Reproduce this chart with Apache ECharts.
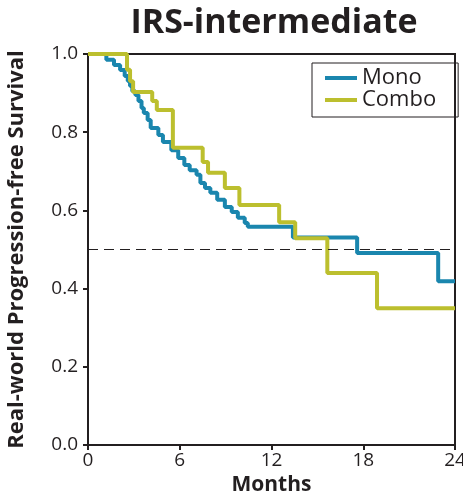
<!DOCTYPE html>
<html>
<head>
<meta charset="utf-8">
<script src="https://cdn.jsdelivr.net/npm/echarts@6/dist/echarts.min.js"></script>
<style>
html,body{margin:0;padding:0;background:#fff;}
#chart{width:463px;height:500px;}
</style>
</head>
<body>
<div id="chart"></div>
<script>
// Kaplan-Meier step data (months, survival)
var monoMonths = [0, 1.2, 1.7, 2.1, 2.4, 2.6, 2.75, 2.9, 3.1, 3.3, 3.5, 3.65, 3.9, 4.1, 4.6, 4.9, 5.45, 5.9, 6.3, 6.65, 7.1, 7.35, 7.65, 8.0, 8.45, 8.95, 9.4, 9.8, 10.25, 10.45, 13.4, 17.6, 22.9, 24];
var monoSurv   = [1.0, 0.985, 0.972, 0.959, 0.944, 0.931, 0.918, 0.905, 0.895, 0.880, 0.862, 0.849, 0.831, 0.811, 0.793, 0.775, 0.754, 0.734, 0.716, 0.703, 0.691, 0.670, 0.657, 0.645, 0.627, 0.609, 0.596, 0.581, 0.568, 0.558, 0.531, 0.491, 0.419, 0.419];
var comboMonths = [0, 2.55, 2.75, 2.95, 4.2, 4.5, 5.55, 7.5, 7.85, 8.95, 9.9, 12.5, 13.55, 15.65, 18.9, 24];
var comboSurv   = [1.0, 0.96, 0.93, 0.903, 0.880, 0.857, 0.760, 0.724, 0.696, 0.657, 0.614, 0.570, 0.529, 0.440, 0.350, 0.350];
var xTicks = [0, 6, 12, 18, 24];
var yTicks = [0.0, 0.2, 0.4, 0.6, 0.8, 1.0];
var refLine = 0.5;

function pairs(xs, ys){ return xs.map(function(x,i){ return [x, ys[i]]; }); }

var ink = '#231f20';
var font = 'Open Sans';
var chart = echarts.init(document.getElementById('chart'), null, {renderer:'canvas'});
chart.setOption({
  animation: false,
  backgroundColor: '#fff',
  title: {
    text: 'IRS-intermediate',
    left: 269, top: 1, textAlign: 'center',
    textStyle: {fontFamily: font, fontWeight: 'bold', fontSize: 34, color: ink}
  },
  legend: {
    orient: 'vertical',
    left: 312, top: 63,
    padding: [4, 22, 6, 13],
    itemGap: 0,
    itemWidth: 32, itemHeight: 4,
    borderColor: ink, borderWidth: 1,
    icon: 'rect',
    textStyle: {fontFamily: font, fontSize: 22, lineHeight: 21, color: ink, padding: [0,0,0,0]},
    data: ['Mono', 'Combo']
  },
  grid: {left: 88, right: 8, top: 54, bottom: 55, show: true, borderColor: ink, borderWidth: 2, backgroundColor: 'transparent', containLabel: false, outerBoundsMode: 'none'},
  xAxis: {
    type: 'value', min: xTicks[0], max: xTicks[xTicks.length-1], interval: 6,
    name: 'Months', nameLocation: 'middle', nameGap: 28,
    nameTextStyle: {fontFamily: font, fontWeight: 'bold', fontSize: 21, color: ink},
    axisLine: {show: true, lineStyle: {color: ink, width: 2}},
    axisTick: {show: true, length: 5, lineStyle: {color: ink, width: 2}},
    axisLabel: {fontFamily: font, fontSize: 19, color: ink, margin: 6},
    splitLine: {show: false}
  },
  yAxis: {
    type: 'value', min: yTicks[0], max: yTicks[yTicks.length-1], interval: 0.2,
    name: 'Real-world Progression-free Survival', nameLocation: 'middle', nameGap: 60,
    nameTextStyle: {fontFamily: font, fontWeight: 'bold', fontSize: 22, color: ink},
    axisLine: {show: true, lineStyle: {color: ink, width: 2}},
    axisTick: {show: true, length: 5, lineStyle: {color: ink, width: 2}},
    axisLabel: {fontFamily: font, fontSize: 19, color: ink, margin: 10, formatter: function(v){ return v.toFixed(1); }},
    splitLine: {show: false}
  },
  series: [
    {
      name: 'Mono', type: 'line', step: 'end', showSymbol: false, symbol: 'none',
      data: pairs(monoMonths, monoSurv),
      itemStyle: {color: '#1a86ae'},
      lineStyle: {color: '#1a86ae', width: 4},
      markLine: {
        silent: true, symbol: ['none','none'], label: {show: false},
        lineStyle: {color: ink, type: [10, 6], width: 1.2},
        data: [{yAxis: refLine}]
      },
      z: 2
    },
    {
      name: 'Combo', type: 'line', step: 'end', showSymbol: false, symbol: 'none',
      data: pairs(comboMonths, comboSurv),
      itemStyle: {color: '#bcbf2e'},
      lineStyle: {color: '#bcbf2e', width: 4},
      z: 3
    }
  ]
});
</script>
</body>
</html>
